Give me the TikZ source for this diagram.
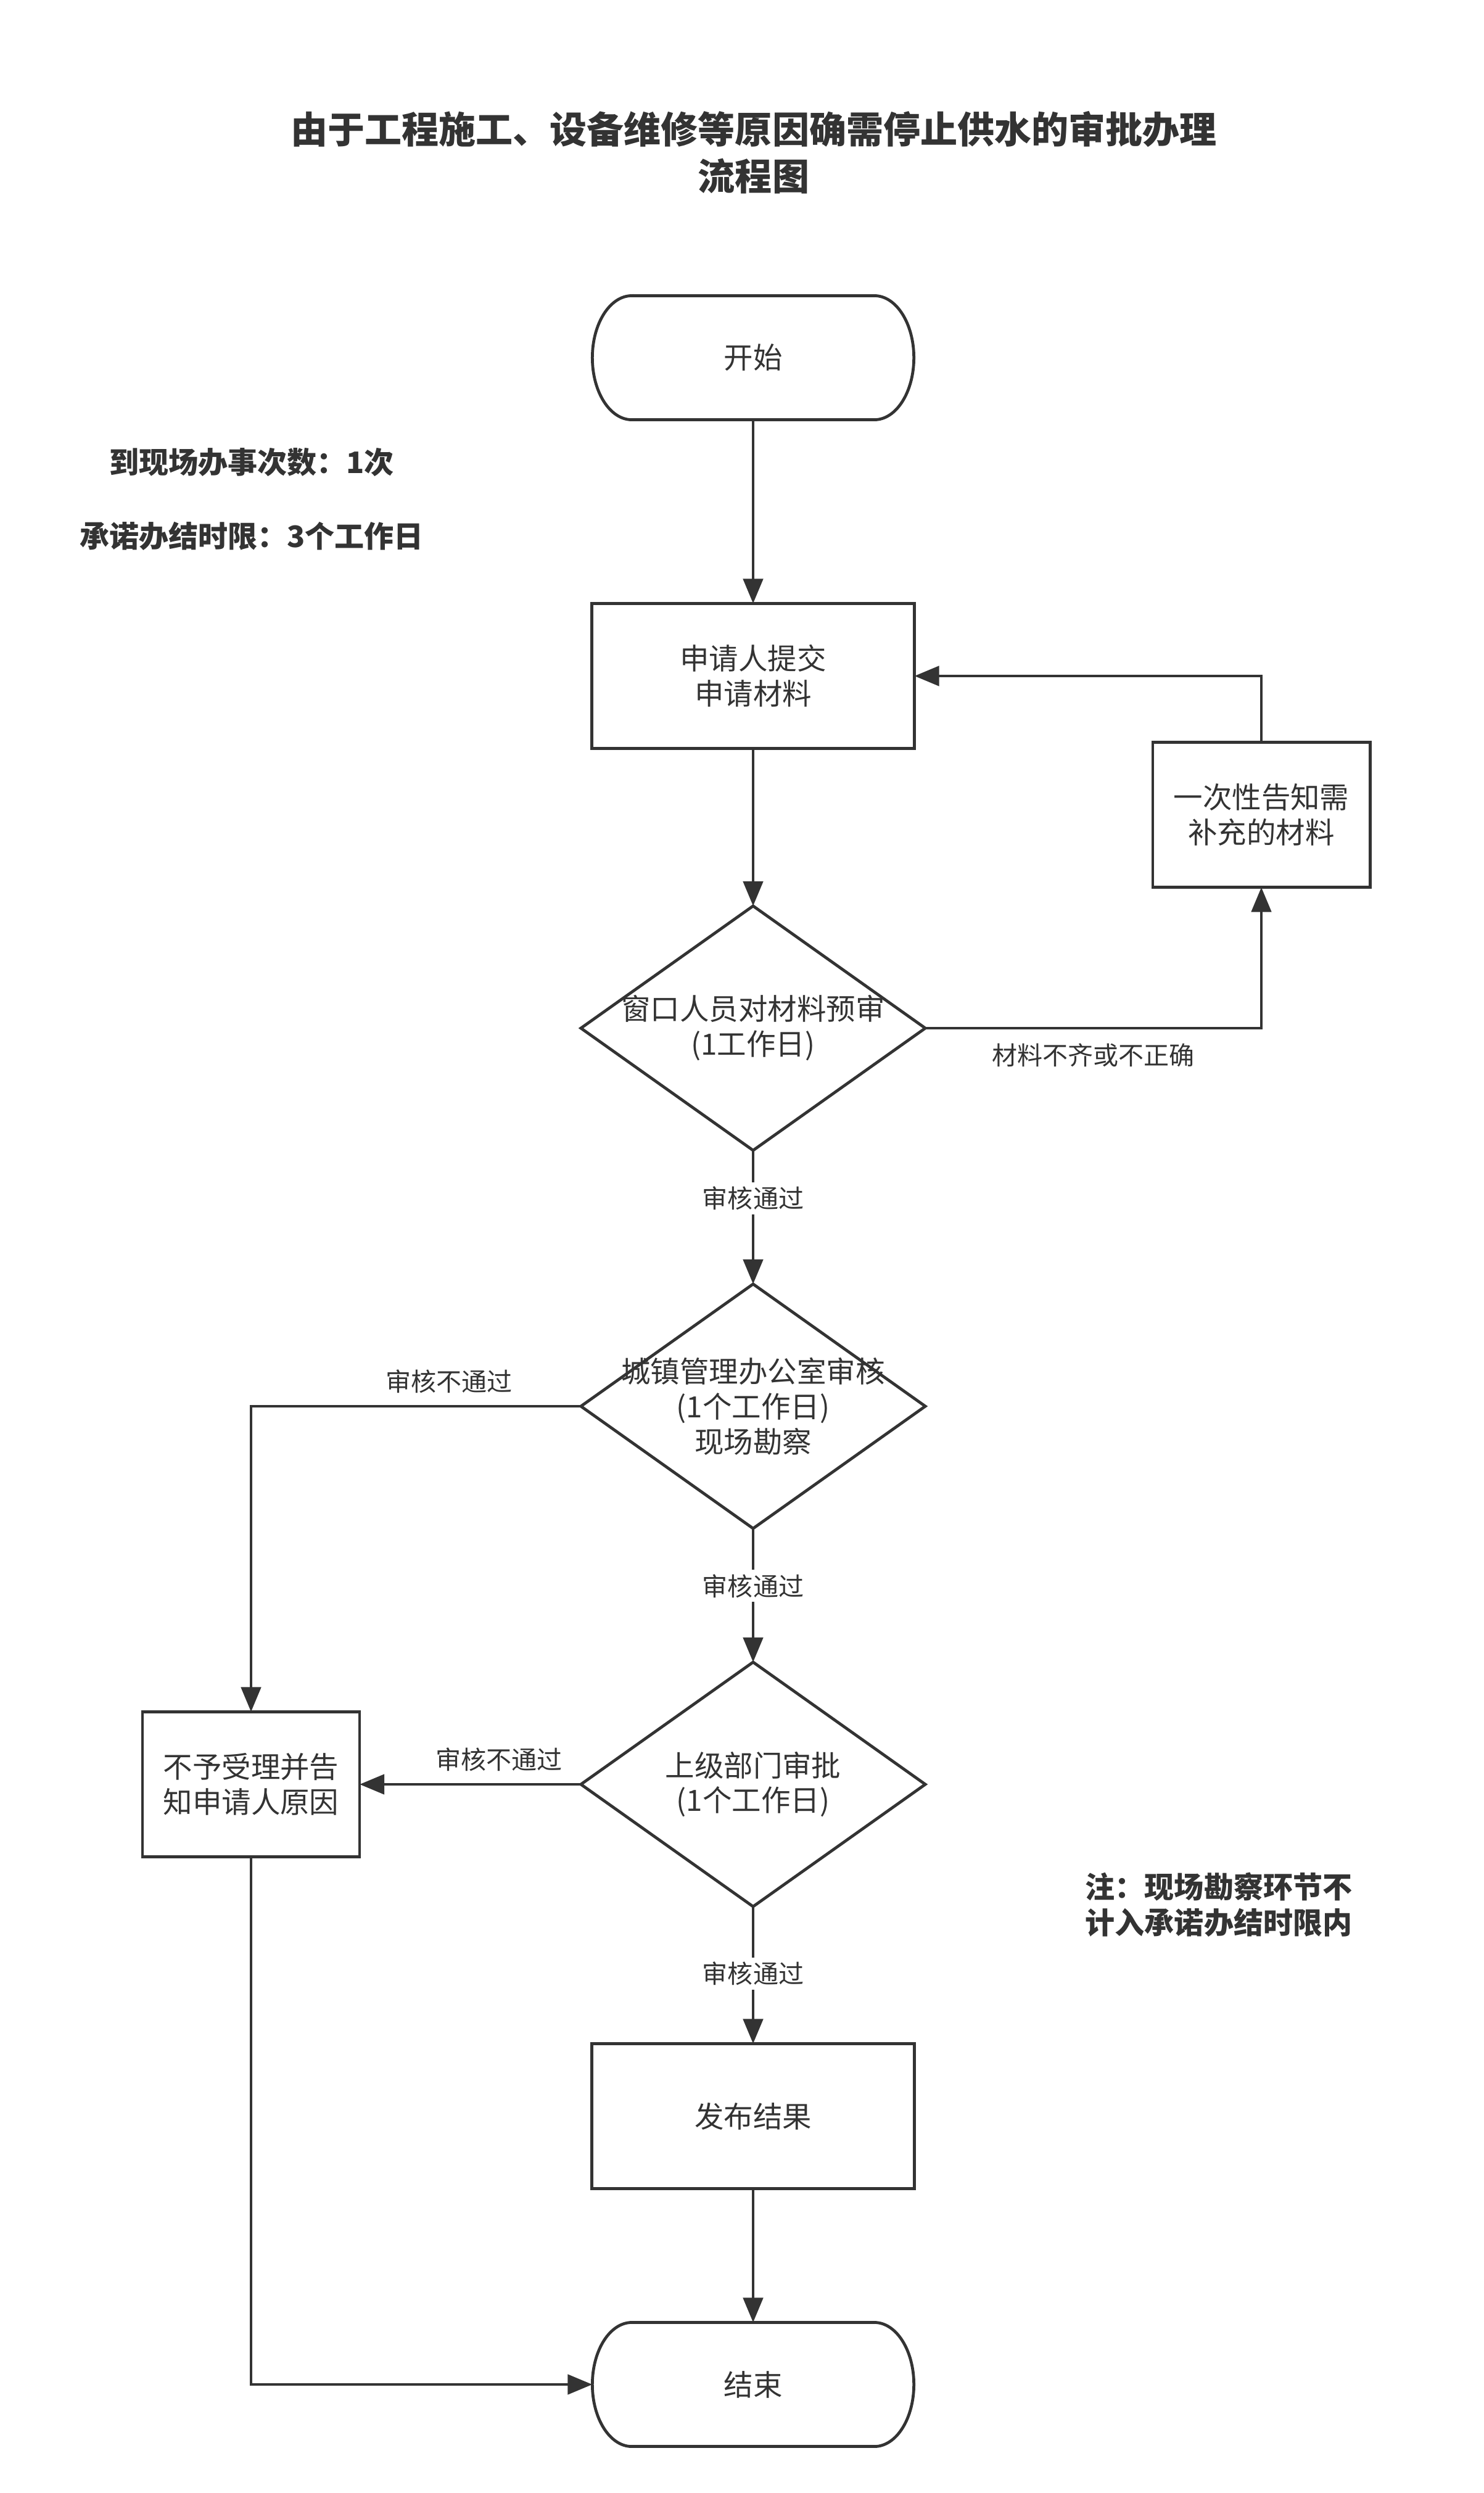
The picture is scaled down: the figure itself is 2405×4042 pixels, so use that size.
\documentclass[tikz,border=0pt]{standalone}
\usepackage{fontspec}
\setmainfont{Noto Sans CJK SC}
\usetikzlibrary{arrows.meta,shapes.geometric}
\definecolor{ink}{HTML}{333333}

% stadium outline with elliptic ends for start / end nodes
\newcommand{\termoutline}[1]{%
	\draw[ink line] ([xshift=0.64cm]#1.north west) -- ([xshift=-0.64cm]#1.north east)
		arc[start angle=90,end angle=-90,x radius=0.64cm,y radius=1.005cm]
		-- ([xshift=0.64cm]#1.south west)
		arc[start angle=270,end angle=90,x radius=0.64cm,y radius=1.005cm] -- cycle;}

\begin{document}
\begin{tikzpicture}[
		x=0.01cm,y=-0.01cm,
		every node/.style={text=ink,font=\fontsize{13.5}{16.2}\selectfont},
		ink line/.style={draw=ink,line width=1.35pt},
		flow/.style={ink line,-{Triangle[length=0.4cm,width=0.32cm]}}]
	\tikzstyle{terminal node}=[rectangle,minimum width=5.21cm,minimum height=2.01cm,outer sep=0]
	\tikzstyle{process node}=[rectangle,ink line,minimum width=5.23cm,minimum height=2.35cm,align=center,outer sep=0]
	\tikzstyle{side node}=[process node,minimum width=3.52cm]
	\tikzstyle{decision node}=[diamond,ink line,minimum width=5.58cm,minimum height=3.96cm,inner sep=0,outer sep=0]
	\tikzstyle{cond label}=[font=\fontsize{11.67}{14}\selectfont,fill=white,inner sep=2pt]
	\tikzstyle{note}=[font=\fontsize{13.66}{16.5}\selectfont\bfseries,align=left]
	\useasboundingbox (0,0) rectangle (2405,4042);

	\node[font=\fontsize{17.07}{21.6}\selectfont\bfseries,align=center] (title) at (1222,247)
		{由于工程施工、设备维修等原因确需停止供水的审批办理\\流程图};
	\node[note] (visits) at (408,749) {到现场办事次数：1次};
	\node[note] (limit) at (408,869) {承诺办结时限：3个工作日};
	\node[note] (remark) at (1976,3088) {注：现场勘察环节不\\计入承诺办结时限内};

	% main column
	\node[terminal node] (start) at (1221,580) {开始};
	\termoutline{start}
	\node[process node] (submit) at (1221,1096) {申请人提交\\申请材料};
	\node[decision node] (precheck) at (1221,1667) {};
	\node[align=center] (precheckT) at (precheck) {窗口人员对材料预审\\(1工作日)};
	\node[decision node] (review) at (1221,2280) {};
	\node[align=center] (reviewT) at (review) {城镇管理办公室审核\\(1个工作日)\\现场勘察};
	\node[decision node] (approve) at (1221,2893) {};
	\node[align=center] (approveT) at (approve) {上级部门审批\\(1个工作日)};
	\node[process node] (publish) at (1221,3431) {发布结果};
	\node[terminal node] (finish) at (1221,3866) {结束};
	\termoutline{finish}

	% side boxes
	\node[side node] (notify) at (2045,1321) {一次性告知需\\补充的材料};
	\node[side node] (reject) at (407,2893) {不予受理并告\\知申请人原因};

	\draw[flow] (start.south) -- (submit.north);
	\draw[flow] (submit.south) -- (precheck.north);
	\draw[flow] (precheck.east) -| node[cond label,fill=none,pos=0.25,yshift=-0.44cm] (lackL) {材料不齐或不正确} (notify.south);
	\draw[flow] (notify.north) |- (submit.east);
	\draw[flow] (precheck.south) -- node[cond label,pos=0.36] (passA) {审核通过} (review.north);
	\draw[flow] (review.west) -| node[cond label,fill=none,pos=0.2,yshift=0.4cm] (failA) {审核不通过} (reject.north);
	\draw[flow] (review.south) -- node[cond label,pos=0.43] (passB) {审核通过} (approve.north);
	\draw[flow] (approve.west) -- node[cond label,fill=none,pos=0.37,yshift=0.4cm] (failB) {审核不通过} (reject.east);
	\draw[flow] (approve.south) -- node[cond label,pos=0.49] (passC) {审核通过} (publish.north);
	\draw[flow] (publish.south) -- (finish.north);
	\draw[flow] (reject.south) |- (finish.west);
\end{tikzpicture}
\end{document}
